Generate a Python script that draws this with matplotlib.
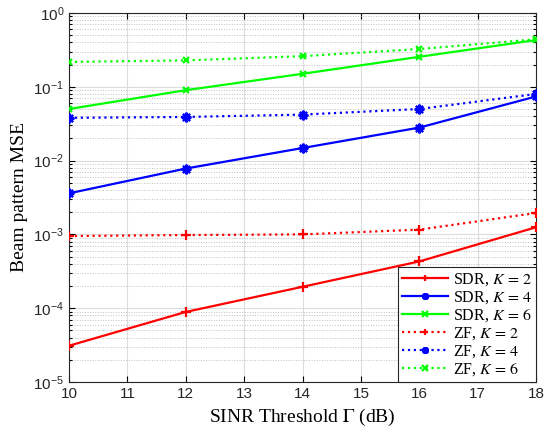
import matplotlib
matplotlib.use("Agg")
import matplotlib.pyplot as plt
import numpy as np
from matplotlib.ticker import LogLocator, LogFormatterSciNotation, NullFormatter

# Data
sinr_db = [10, 12, 14, 16, 18]
sdr_k2 = [3.1e-5, 8.9e-5, 1.95e-4, 4.3e-4, 1.25e-3]
sdr_k4 = [3.6e-3, 7.8e-3, 1.48e-2, 2.8e-2, 7.4e-2]
sdr_k6 = [0.050, 0.090, 0.150, 0.255, 0.43]
zf_k2 = [9.5e-4, 9.8e-4, 1.0e-3, 1.16e-3, 1.95e-3]
zf_k4 = [0.038, 0.039, 0.042, 0.050, 0.080]
zf_k6 = [0.217, 0.228, 0.26, 0.325, 0.44]

plt.rcParams["mathtext.fontset"] = "stix"
serif = "Liberation Serif"
sans = "Liberation Sans"

fig = plt.figure(figsize=(5.45, 4.26), dpi=100)
ax = fig.add_axes([0.1266, 0.1033, 0.857, 0.8662])

star = (8, 2, 0)
series = [
    (sdr_k2, "#ff0000", "-", "+", 7, "SDR, $K\\,=\\,2$"),
    (sdr_k4, "#0000ff", "-", star, 7, "SDR, $K\\,=\\,4$"),
    (sdr_k6, "#00ff00", "-", "x", 5, "SDR, $K\\,=\\,6$"),
    (zf_k2, "#ff0000", ":", "+", 7, "ZF, $K\\,=\\,2$"),
    (zf_k4, "#0000ff", ":", star, 7, "ZF, $K\\,=\\,4$"),
    (zf_k6, "#00ff00", ":", "x", 5, "ZF, $K\\,=\\,6$"),
]
for vals, col, ls, mk, ms, lab in series:
    ax.plot(sinr_db, vals, color=col, linestyle=ls, linewidth=1.6,
            marker=mk, markersize=ms, markeredgewidth=1.6, label=lab, zorder=3)

ax.set_yscale("log")
ax.set_xlim(10, 18)
ax.set_ylim(1e-5, 1)
ax.set_xticks(np.arange(10, 19, 1))
ax.yaxis.set_major_locator(LogLocator(base=10, numticks=10))
ax.yaxis.set_minor_locator(LogLocator(base=10, subs=np.arange(2, 10), numticks=20))
ax.yaxis.set_major_formatter(LogFormatterSciNotation())
ax.yaxis.set_minor_formatter(NullFormatter())

ax.grid(True, which="major", color="#dcdcdc", linestyle="-", linewidth=0.8, zorder=0)
ax.grid(True, which="minor", axis="y", color="#c0c0c0", linestyle=":", linewidth=0.7, zorder=0)
ax.set_axisbelow(True)

ax.tick_params(which="both", direction="in", top=True, right=True, labelsize=11, width=0.8)
ax.tick_params(which="major", length=4)
ax.tick_params(which="minor", length=2)
for lbl in ax.get_xticklabels() + ax.get_yticklabels():
    lbl.set_fontfamily(sans)
    lbl.set_color("#262626")
for sp in ax.spines.values():
    sp.set_linewidth(0.8)
    sp.set_color("#262626")

ax.set_xlabel("SINR Threshold $\\Gamma$ (dB)", fontsize=14, family=serif)
ax.set_ylabel("Beam pattern MSE", fontsize=14, family=serif)

leg = ax.legend(loc="lower right", prop={"family": serif, "size": 11.5},
                frameon=True, fancybox=False, edgecolor="#262626",
                borderaxespad=0.0, handlelength=2.9, labelspacing=0.08,
                borderpad=0.25, handletextpad=0.3, framealpha=1)
leg.get_frame().set_linewidth(0.8)
for h in leg.legend_handles:
    h.set_markersize(5)

fig.savefig("out.png", dpi=100)
